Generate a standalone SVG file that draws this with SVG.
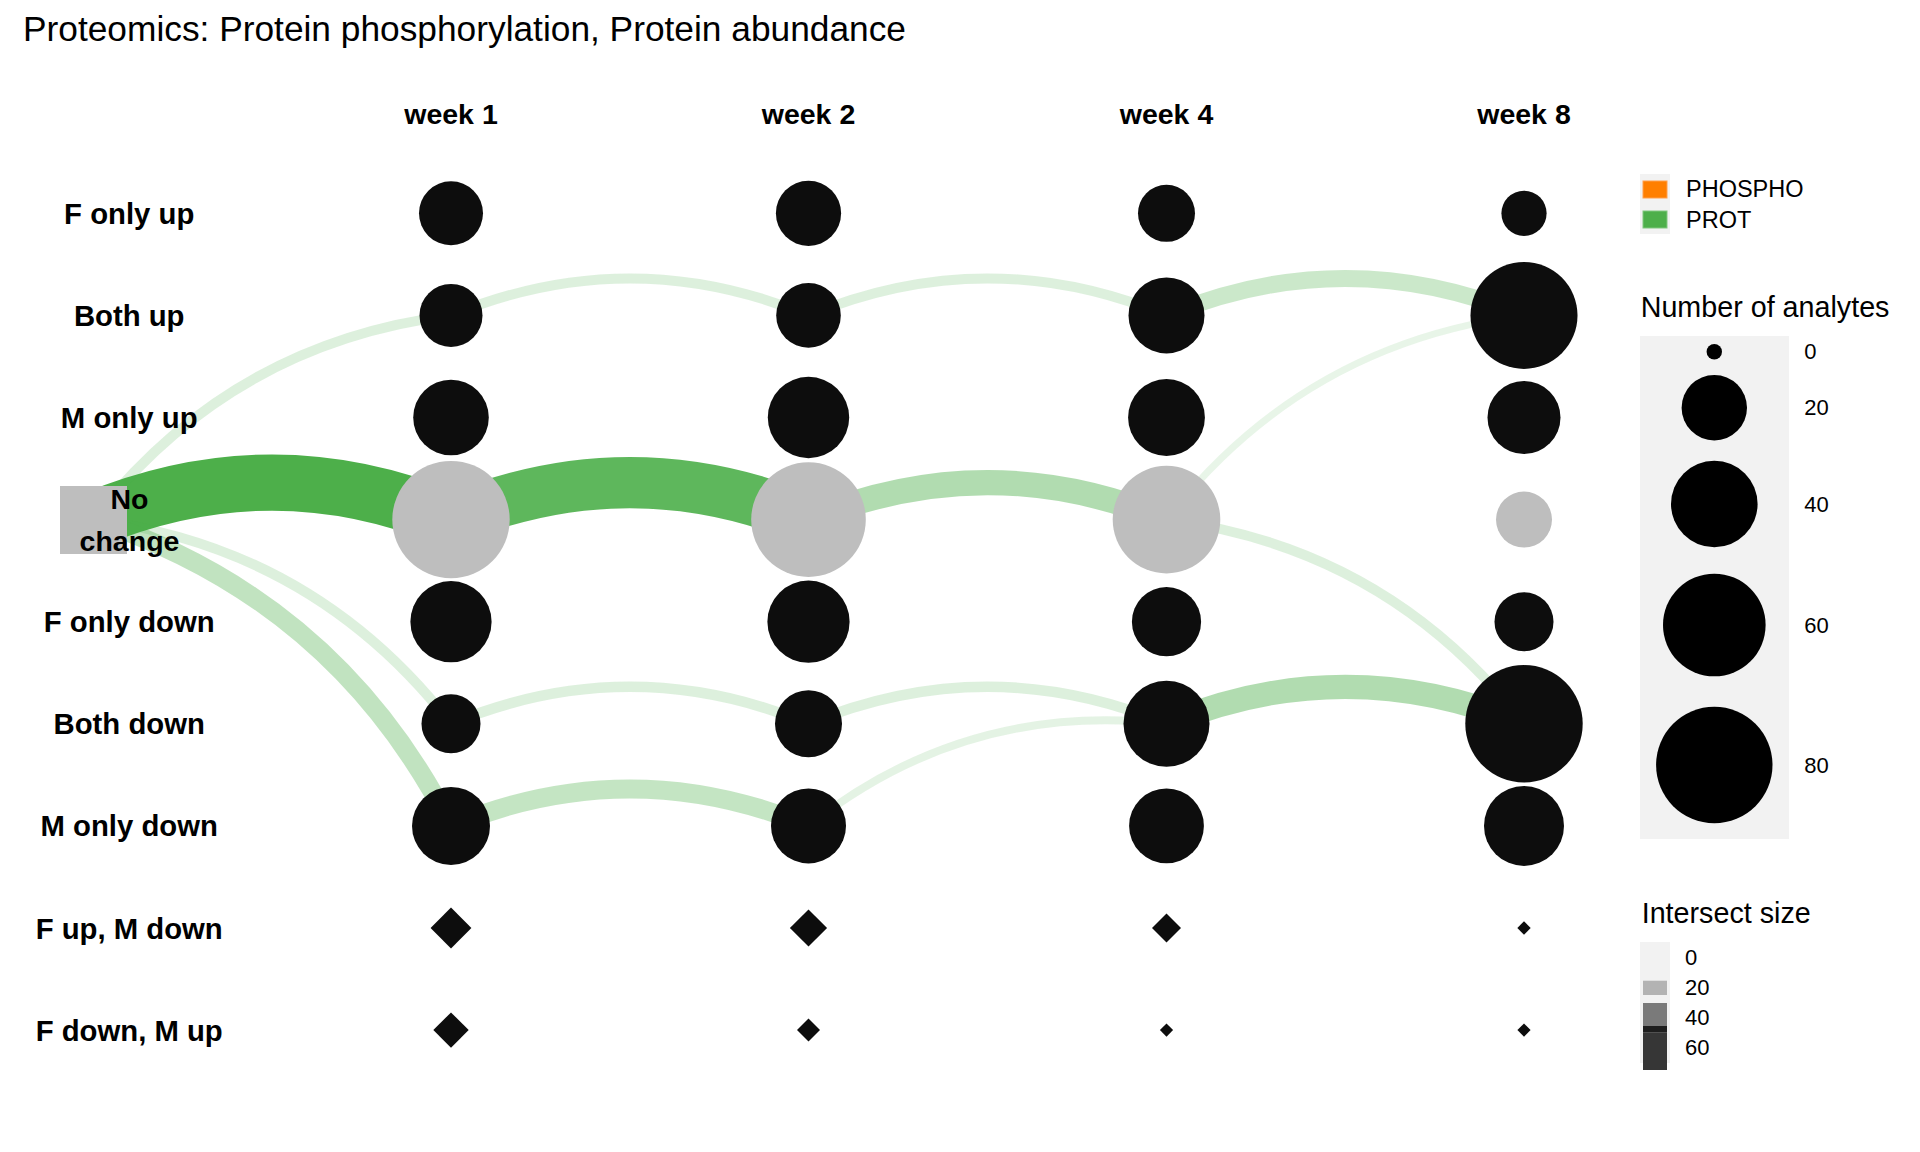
<svg xmlns="http://www.w3.org/2000/svg" width="1920" height="1152" viewBox="0 0 1920 1152">
<style>
text{font-family:"Liberation Sans",Arial,Helvetica,sans-serif;fill:#000}
.t{font-size:35.3px}
.b{font-size:28.5px;font-weight:bold;text-anchor:middle}
.r{font-size:29.3px}
.lt{font-size:28.7px}
.ls{font-size:22px}
.lk{font-size:23.5px}
.c{stroke:#4DAF4A;fill:none}
.k{fill:#0D0D0D}
.g{fill:#BEBEBE}
</style>
<rect width="1920" height="1152" fill="#fff"/>
<text class="t" x="23" y="41">Proteomics: Protein phosphorylation, Protein abundance</text>
<g id="headers">
<text class="b" x="451" y="123.5">week 1</text>
<text class="b" x="808.5" y="123.5">week 2</text>
<text class="b" x="1166.5" y="123.5">week 4</text>
<text class="b" x="1524" y="123.5">week 8</text>
</g>
<g id="connectors">
<path class="c" stroke-width="56" stroke-opacity="1" d="M93,519.6 Q272,445.6 451,519.6"/>
<path class="c" stroke-width="10" stroke-opacity="0.19" d="M93,519.6 Q229.8,343.5 451,315.4"/>
<path class="c" stroke-width="10" stroke-opacity="0.19" d="M93,519.6 Q314.2,547.7 451,723.8"/>
<path class="c" stroke-width="19" stroke-opacity="0.35" d="M93,519.6 Q335.3,598.8 451,825.9"/>
<path class="c" stroke-width="51" stroke-opacity="0.9" d="M451,519.6 Q629.75,445.7 808.5,519.6"/>
<path class="c" stroke-width="10" stroke-opacity="0.19" d="M451,315.4 Q629.75,241.5 808.5,315.4"/>
<path class="c" stroke-width="10.5" stroke-opacity="0.19" d="M451,723.8 Q629.75,649.9 808.5,723.8"/>
<path class="c" stroke-width="19" stroke-opacity="0.33" d="M451,825.9 Q629.75,752 808.5,825.9"/>
<path class="c" stroke-width="25" stroke-opacity="0.44" d="M808.5,519.6 Q987.5,445.6 1166.5,519.6"/>
<path class="c" stroke-width="10" stroke-opacity="0.19" d="M808.5,315.4 Q987.5,241.4 1166.5,315.4"/>
<path class="c" stroke-width="10.5" stroke-opacity="0.19" d="M808.5,723.8 Q987.5,649.8 1166.5,723.8"/>
<path class="c" stroke-width="8" stroke-opacity="0.15" d="M808.5,825.9 Q966.4,700.9 1166.5,723.8"/>
<path class="c" stroke-width="17" stroke-opacity="0.29" d="M1166.5,315.4 Q1345.25,241.5 1524,315.4"/>
<path class="c" stroke-width="7" stroke-opacity="0.13" d="M1166.5,519.6 Q1303.05,343.6 1524,315.4"/>
<path class="c" stroke-width="10" stroke-opacity="0.19" d="M1166.5,519.6 Q1387.45,547.8 1524,723.8"/>
<path class="c" stroke-width="24" stroke-opacity="0.44" d="M1166.5,723.8 Q1345.25,649.9 1524,723.8"/>
</g>
<g id="row-labels">
<text class="b r" x="129.2" y="223.8">F only up</text>
<text class="b r" x="129.2" y="325.9">Both up</text>
<text class="b r" x="129.2" y="428">M only up</text>
<text class="b r" x="129.2" y="632.2">F only down</text>
<text class="b r" x="129.2" y="734.3">Both down</text>
<text class="b r" x="129.2" y="836.4">M only down</text>
<text class="b r" x="129.2" y="938.5">F up, M down</text>
<text class="b r" x="129.2" y="1040.6">F down, M up</text>
</g>
<g id="start-no-change">
<rect class="g" x="60" y="486" width="67" height="68"/>
<text class="b" x="129.5" y="509.3">No</text>
<text class="b" x="129.5" y="550.7">change</text>
</g>
<g id="week1">
<circle class="k" cx="451" cy="213.3" r="32"/>
<circle class="k" cx="451" cy="315.4" r="31.5"/>
<circle class="k" cx="451" cy="417.5" r="37.8"/>
<circle class="g" cx="451" cy="519.6" r="58.7"/>
<circle class="k" cx="451" cy="621.7" r="40.6"/>
<circle class="k" cx="451" cy="723.8" r="29.5"/>
<circle class="k" cx="451" cy="825.9" r="39"/>
<polygon class="k" points="451,907.6 471.4,928 451,948.4 430.6,928"/>
<polygon class="k" points="451,1012.4 468.7,1030.1 451,1047.8 433.3,1030.1"/>
</g>
<g id="week2">
<circle class="k" cx="808.5" cy="213.3" r="32.6"/>
<circle class="k" cx="808.5" cy="315.4" r="32.3"/>
<circle class="k" cx="808.5" cy="417.5" r="40.7"/>
<circle class="g" cx="808.5" cy="519.6" r="57.3"/>
<circle class="k" cx="808.5" cy="621.7" r="41.1"/>
<circle class="k" cx="808.5" cy="723.8" r="33.5"/>
<circle class="k" cx="808.5" cy="825.9" r="37.5"/>
<polygon class="k" points="808.5,909.4 827.1,928 808.5,946.6 789.9,928"/>
<polygon class="k" points="808.5,1018.6 820,1030.1 808.5,1041.6 797,1030.1"/>
</g>
<g id="week4">
<circle class="k" cx="1166.5" cy="213.3" r="28.5"/>
<circle class="k" cx="1166.5" cy="315.4" r="38"/>
<circle class="k" cx="1166.5" cy="417.5" r="38.4"/>
<circle class="g" cx="1166.5" cy="519.6" r="53.8"/>
<circle class="k" cx="1166.5" cy="621.7" r="34.6"/>
<circle class="k" cx="1166.5" cy="723.8" r="43"/>
<circle class="k" cx="1166.5" cy="825.9" r="37.4"/>
<polygon class="k" points="1166.5,913.5 1181,928 1166.5,942.5 1152,928"/>
<polygon class="k" points="1166.5,1023.5 1173.1,1030.1 1166.5,1036.7 1159.9,1030.1"/>
</g>
<g id="week8">
<circle class="k" cx="1524" cy="213.3" r="22.6"/>
<circle class="k" cx="1524" cy="315.4" r="53.5"/>
<circle class="k" cx="1524" cy="417.5" r="36.5"/>
<circle class="g" cx="1524" cy="519.6" r="28"/>
<circle class="k" cx="1524" cy="621.7" r="29.5"/>
<circle class="k" cx="1524" cy="723.8" r="58.7"/>
<circle class="k" cx="1524" cy="825.9" r="40"/>
<polygon class="k" points="1524,921.3 1530.7,928 1524,934.7 1517.3,928"/>
<polygon class="k" points="1524,1023.5 1530.6,1030.1 1524,1036.7 1517.4,1030.1"/>
</g>
<g id="legend-type">
<rect x="1640" y="174" width="30" height="60" fill="#F2F2F2"/>
<rect x="1643" y="181" width="24" height="17" fill="#FF7F00" stroke="#FFA04D" stroke-width="1"/>
<rect x="1643" y="211" width="24" height="17" fill="#4DAF4A" stroke="#80C77E" stroke-width="1"/>
<text class="lk" x="1686" y="197">PHOSPHO</text>
<text class="lk" x="1686" y="227.5">PROT</text>
</g>
<g id="legend-size">
<text class="lt" x="1640.7" y="317.3">Number of analytes</text>
<rect x="1640" y="336" width="149" height="503" fill="#F2F2F2"/>
<circle cx="1714.3" cy="351.7" r="7.7" fill="#000"/>
<circle cx="1714.3" cy="407.7" r="32.7" fill="#000"/>
<circle cx="1714.3" cy="504" r="43.3" fill="#000"/>
<circle cx="1714.3" cy="625" r="51.3" fill="#000"/>
<circle cx="1714.3" cy="765" r="58.2" fill="#000"/>
<text class="ls" x="1804.3" y="359.3">0</text>
<text class="ls" x="1804.3" y="415.3">20</text>
<text class="ls" x="1804.3" y="511.7">40</text>
<text class="ls" x="1804.3" y="632.7">60</text>
<text class="ls" x="1804.3" y="773.3">80</text>
</g>
<g id="legend-intersect">
<text class="lt" x="1641.7" y="922.7">Intersect size</text>
<rect x="1640" y="942" width="30" height="121" fill="#F2F2F2"/>
<rect x="1643" y="980.7" width="24" height="14.3" fill="#B3B3B3"/>
<rect x="1643" y="1003" width="24" height="23" fill="#7A7A7A"/>
<rect x="1643" y="1026" width="24" height="6.7" fill="#1E1E1E"/>
<rect x="1643" y="1032.7" width="24" height="37.3" fill="#363636"/>
<text class="ls" x="1685" y="965">0</text>
<text class="ls" x="1685" y="995">20</text>
<text class="ls" x="1685" y="1025">40</text>
<text class="ls" x="1685" y="1055">60</text>
</g>
</svg>
